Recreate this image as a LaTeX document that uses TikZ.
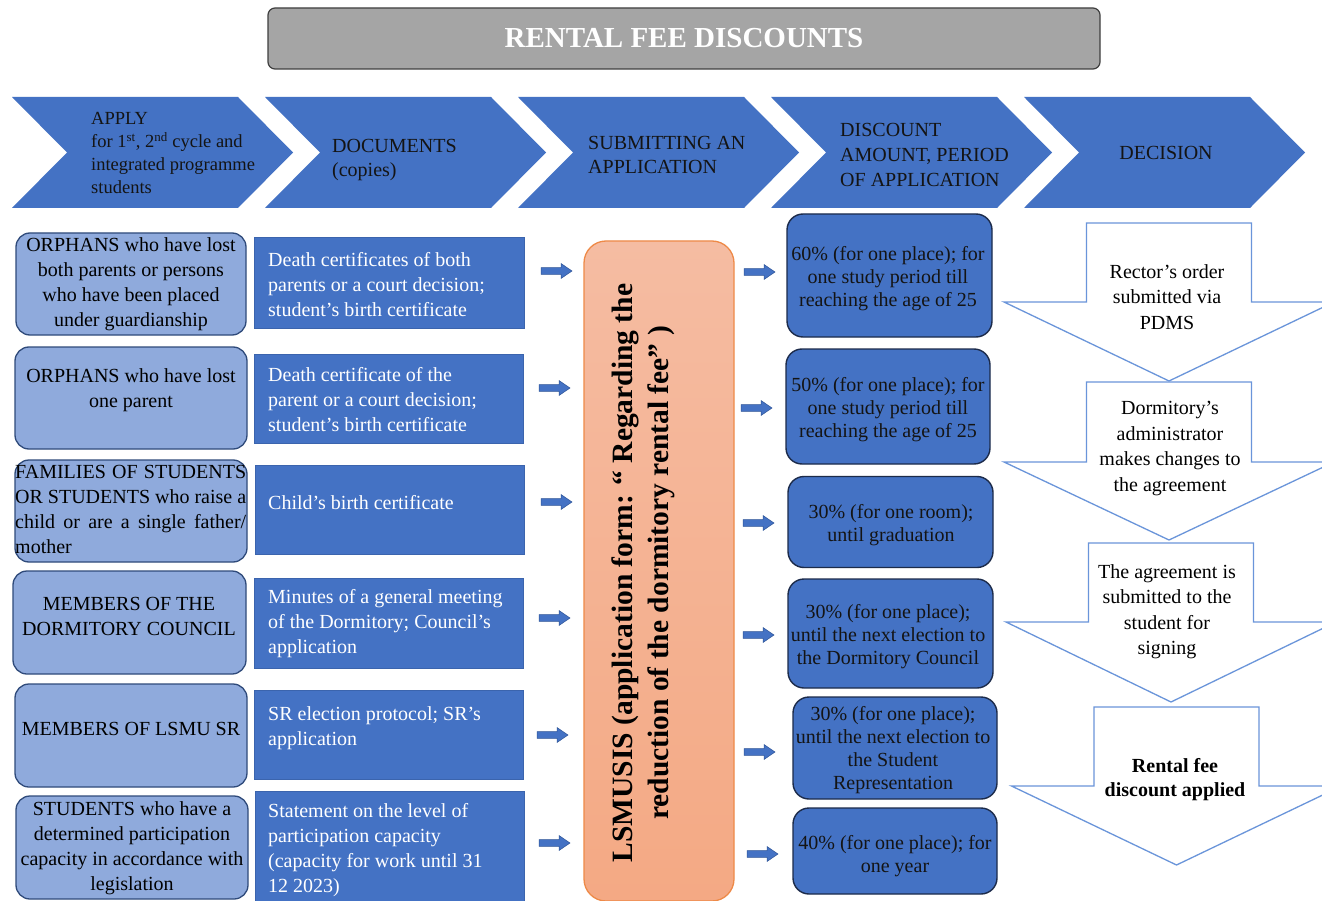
\documentclass[tikz,border=0pt]{standalone}
\usepackage{fontspec}
\setmainfont{Liberation Serif}
\definecolor{blue1}{HTML}{4472C4}
\definecolor{blueedge}{HTML}{2F5597}
\definecolor{lightblue}{HTML}{8FAADC}
\definecolor{navy}{HTML}{2F4A7A}
\definecolor{darkline}{HTML}{1C2B4A}
\definecolor{midline}{HTML}{3B64AD}
\definecolor{orfillA}{HTML}{F5BCA2}
\definecolor{orfillB}{HTML}{F4A984}
\definecolor{orline}{HTML}{EE8A48}
\definecolor{titlegray}{HTML}{A5A5A5}
\definecolor{titleedge}{HTML}{3F3F3F}
\definecolor{decline}{HTML}{6A95DA}
\definecolor{inkdark}{HTML}{141414}
\tikzset{
  titlebox/.style={draw=titleedge, fill=titlegray, rounded corners=7pt, line width=1.2pt,
    text=white, font=\fontsize{29}{32}\selectfont\bfseries, inner sep=0pt},
  chevtext/.style={inner sep=0pt, text=inkdark, align=left, font=\fontsize{20}{24}\selectfont},
  lbox/.style={draw=navy, fill=lightblue, rounded corners=14pt, line width=1.3pt, inner sep=0pt},
  mbox/.style={draw=midline, fill=blue1, line width=1pt, inner sep=0pt},
  rbox/.style={draw=darkline, fill=blue1, rounded corners=16pt, line width=1.4pt, inner sep=0pt},
  ltxt/.style={inner sep=0pt, text=black, align=center, font=\fontsize{20}{25}\selectfont},
  mtxt/.style={inner sep=0pt, text=white, align=left, anchor=west, font=\fontsize{20}{25}\selectfont},
  rtxt/.style={inner sep=0pt, text=inkdark, align=center, font=\fontsize{20}{23}\selectfont},
  dtxt/.style={inner sep=0pt, text=black, align=center, font=\fontsize{20}{25.5}\selectfont},
  decshape/.style={draw=decline, fill=white, line width=1.3pt},
  pics/rarrow/.style={code={
    \filldraw[fill=blue1, draw=blueedge, line width=0.5pt]
      (0,-3.3) -- (20,-3.3) -- (20,-7.5) -- (31,0) -- (20,7.5) -- (20,3.3) -- (0,3.3) -- cycle;}}
}
\begin{document}
\begin{tikzpicture}[x=1pt,y=-1pt]
\useasboundingbox (0,0) rectangle (1322,901);
\fill[white] (0,0) rectangle (1322,901);

% title bar
\node[titlebox, minimum width=832pt, minimum height=61pt] (title) at (684,38.5) {RENTAL FEE DISCOUNTS};

% header chevrons
\foreach \x in {12,265,518,771,1024}
  \fill[blue1] (\x,97) -- (\x+226,97) -- (\x+281,152.5) -- (\x+226,208) -- (\x,208) -- (\x+55,152.5) -- cycle;

\node[chevtext, anchor=west, font=\fontsize{18.5}{23}\selectfont] (c1) at (91,153)
  {APPLY\\for 1\textsuperscript{st}, 2\textsuperscript{nd} cycle and\\integrated programme\\students};
\node[chevtext, anchor=west] (c2) at (332,160) {DOCUMENTS\\(copies)};
\node[chevtext, anchor=west] (c3) at (588,155) {SUBMITTING AN\\APPLICATION};
\node[chevtext, anchor=west, font=\fontsize{20}{25}\selectfont] (c4) at (840,155) {DISCOUNT\\AMOUNT, PERIOD\\OF APPLICATION};
\node[chevtext] (c5) at (1166,153) {DECISION};

% applicant groups
\node[lbox, minimum width=230pt, minimum height=102pt] (l1) at (131,284) {};
\node[lbox, minimum width=232pt, minimum height=102pt] (l2) at (131,398) {};
\node[lbox, minimum width=232pt, minimum height=102pt] (l3) at (131,511) {};
\node[lbox, minimum width=233pt, minimum height=103pt] (l4) at (129.5,622.5) {};
\node[lbox, minimum width=232pt, minimum height=103pt] (l5) at (131,735.5) {};
\node[lbox, minimum width=232pt, minimum height=103pt] (l6) at (132,847.5) {};

\node[ltxt] (t1) at (131,284.5) {ORPHANS who have lost\\both parents or persons\\who have been placed\\under guardianship};
\node[ltxt] (t2) at (131,390.5) {ORPHANS who have lost\\one parent};
\node[ltxt, anchor=west, align=left] (t3) at (15,509.5)
  {\makebox[231pt][s]{FAMILIES OF STUDENTS}\\\makebox[231pt][s]{OR STUDENTS who raise a}\\\makebox[231pt][s]{child or are a single father/}\\mother};
\node[ltxt] (t4) at (129,616.5) {MEMBERS OF THE\\DORMITORY COUNCIL};
\node[ltxt] (t5) at (131,729) {MEMBERS OF LSMU SR};
\node[ltxt] (t6) at (132,848.5) {STUDENTS who have a\\determined participation\\capacity in accordance with\\legislation};

% documents
\node[mbox, minimum width=270pt, minimum height=90pt] (m1) at (389,283) {};
\node[mbox, minimum width=269pt, minimum height=89pt] (m2) at (388.5,398.5) {};
\node[mbox, minimum width=269pt, minimum height=89pt] (m3) at (389.5,509.5) {};
\node[mbox, minimum width=269pt, minimum height=90pt] (m4) at (388.5,623) {};
\node[mbox, minimum width=269pt, minimum height=89pt] (m5) at (388.5,734.5) {};
\node[mbox, minimum width=269pt, minimum height=120pt] (m6) at (389.5,851) {};

\node[mtxt] (mt1) at (268,285) {Death certificates of both\\parents or a court decision;\\student’s birth certificate};
\node[mtxt] (mt2) at (268,400) {Death certificate of the\\parent or a court decision;\\student’s birth certificate};
\node[mtxt] (mt3) at (268,503) {Child’s birth certificate};
\node[mtxt] (mt4) at (268,623.5) {Minutes of a general meeting\\of the Dormitory; Council’s\\application};
\node[mtxt] (mt5) at (268,728) {SR election protocol; SR’s\\application};
\node[mtxt] (mt6) at (268,850) {Statement on the level of\\participation capacity\\(capacity for work until 31\\12 2023)};

% arrows into and out of the application step
\foreach \x/\y in {541/271, 539/388, 541/502, 539/618, 537/735, 539/843}
  \pic at (\x,\y) {rarrow};
\foreach \x/\y in {744/272, 741/408, 743/523, 743/635, 744/752, 747/854}
  \pic at (\x,\y) {rarrow};

% application form
\node[draw=orline, line width=1.3pt, rounded corners=22pt, top color=orfillA, bottom color=orfillB,
      minimum width=150pt, minimum height=660pt, inner sep=0pt] (lsm) at (659,571) {};
\node[rotate=90, inner sep=0pt, align=center, text=black, font=\fontsize{29.5}{36}\selectfont\bfseries] (lsmtext) at (643,573)
  {LSMUSIS (application form: “ Regarding the\\reduction of the dormitory rental fee” )};

% discount amounts
\node[rbox, minimum width=205pt, minimum height=123pt] (r1) at (889.5,275.5) {};
\node[rbox, minimum width=204pt, minimum height=115pt] (r2) at (888,406.5) {};
\node[rbox, minimum width=205pt, minimum height=91pt] (r3) at (890.5,522) {};
\node[rbox, minimum width=205pt, minimum height=109pt] (r4) at (890.5,633.5) {};
\node[rbox, minimum width=204pt, minimum height=102pt] (r5) at (895,748) {};
\node[rbox, minimum width=204pt, minimum height=86pt] (r6) at (895,851) {};

\node[rtxt] (rt1) at (888,279) {60\% (for one place); for\\one study period till\\reaching the age of 25};
\node[rtxt] (rt2) at (888,409.5) {50\% (for one place); for\\one study period till\\reaching the age of 25};
\node[rtxt] (rt3) at (891,525) {30\% (for one room);\\until graduation};
\node[rtxt] (rt4) at (888,637) {30\% (for one place);\\until the next election to\\the Dormitory Council};
\node[rtxt] (rt5) at (893,750.5) {30\% (for one place);\\until the next election to\\the Student\\Representation};
\node[rtxt] (rt6) at (895,856) {40\% (for one place); for\\one year};

% decision steps
\foreach \cx/\ty/\hy/\tp in {1169/223/302/381, 1169/382/462/540, 1171/543/622/702, 1176.5/707/786/865}
  \draw[decshape] (\cx-82.5,\ty) -- (\cx+82.5,\ty) -- (\cx+82.5,\hy) -- (\cx+165,\hy)
    -- (\cx,\tp) -- (\cx-165,\hy) -- (\cx-82.5,\hy) -- cycle;

\node[dtxt] (d1) at (1167,297) {Rector’s order\\submitted via\\PDMS};
\node[dtxt] (d2) at (1170,448.5) {Dormitory’s\\administrator\\makes changes to\\the agreement};
\node[dtxt] (d3) at (1167,611.5) {The agreement is\\submitted to the\\student for\\signing};
\node[dtxt, font=\fontsize{20}{24}\selectfont\bfseries] (d4) at (1175,780) {Rental fee\\discount applied};
\end{tikzpicture}
\end{document}
